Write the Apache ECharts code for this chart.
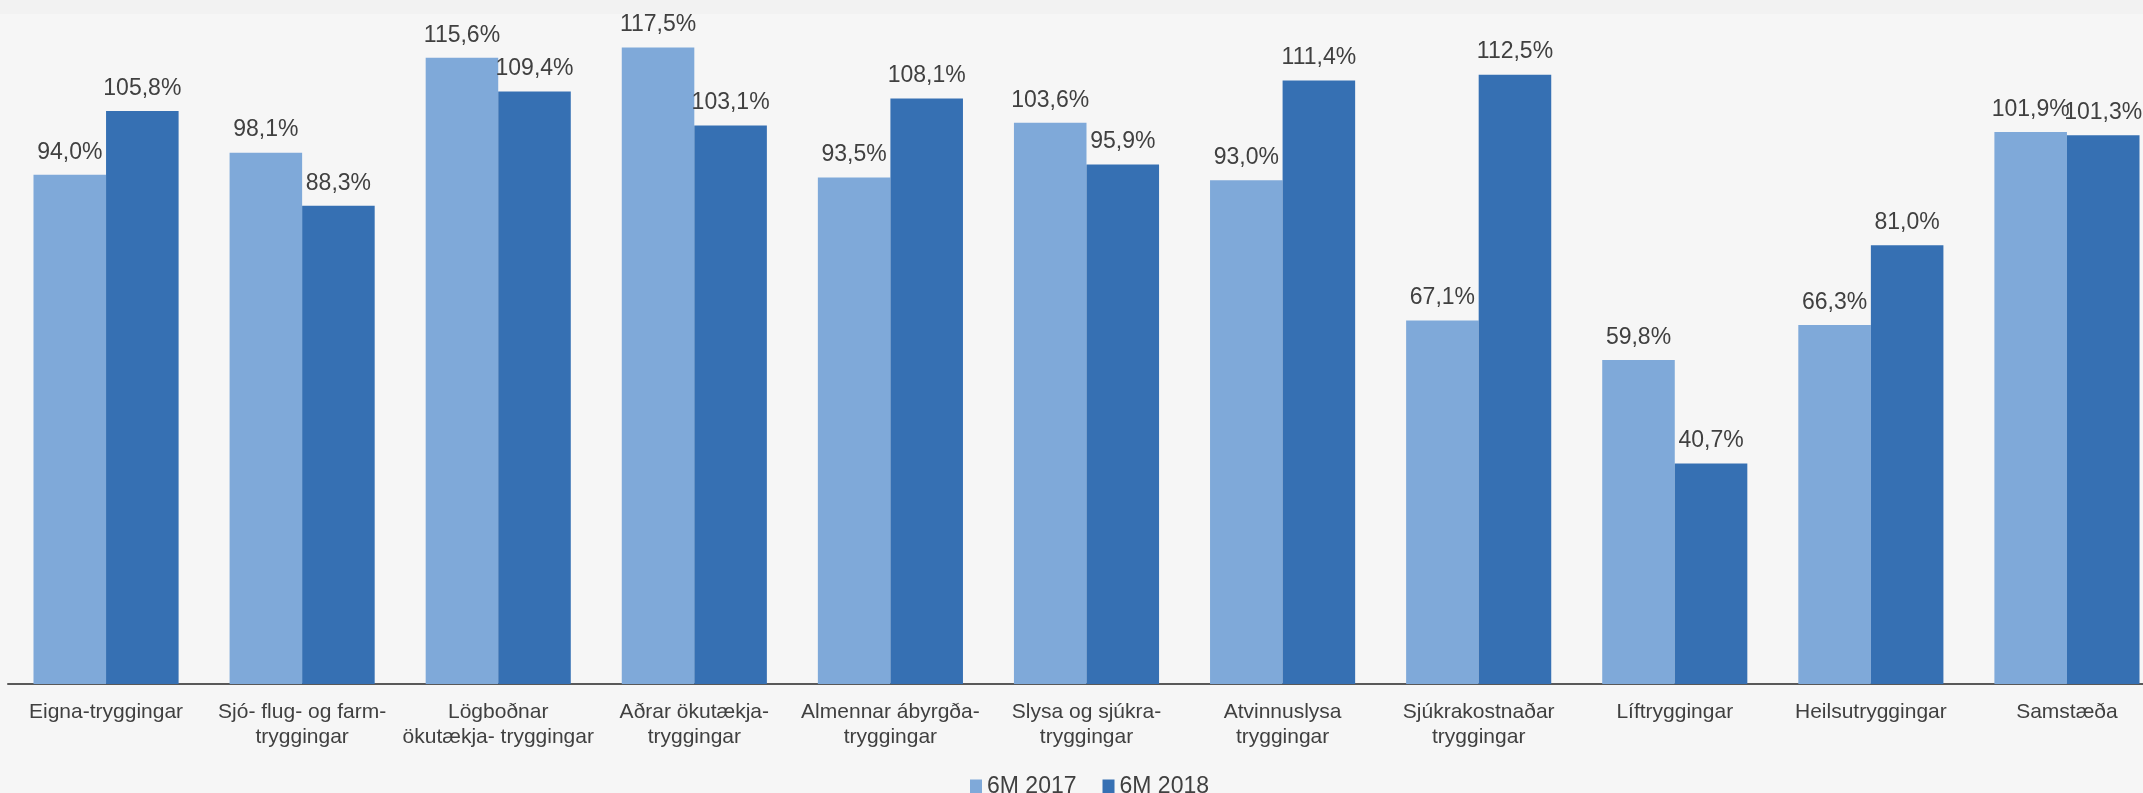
<!DOCTYPE html>
<html>
<head>
<meta charset="utf-8">
<script src="https://cdn.jsdelivr.net/npm/echarts@6/dist/echarts.min.js"></script>
<style>
html,body{margin:0;padding:0;background:#f6f6f6;}
#chart{width:2143px;height:793px;}
</style>
</head>
<body>
<div id="chart"></div>
<script>
const categories = [
  "Eigna-tryggingar",
  "Sjó- flug- og farm-\ntryggingar",
  "Lögboðnar\nökutækja- tryggingar",
  "Aðrar ökutækja-\ntryggingar",
  "Almennar ábyrgða-\ntryggingar",
  "Slysa og sjúkra-\ntryggingar",
  "Atvinnuslysa\ntryggingar",
  "Sjúkrakostnaðar\ntryggingar",
  "Líftryggingar",
  "Heilsutryggingar",
  "Samstæða"
];
const seriesNames = ["6M 2017", "6M 2018"];
const values2017 = [94.0, 98.1, 115.6, 117.5, 93.5, 103.6, 93.0, 67.1, 59.8, 66.3, 101.9];
const values2018 = [105.8, 88.3, 109.4, 103.1, 108.1, 95.9, 111.4, 112.5, 40.7, 81.0, 101.3];

const FONT = "'Liberation Sans', Arial, sans-serif";
const chart = echarts.init(document.getElementById('chart'), null, {renderer: 'canvas'});
const fmt = p => p.value.toFixed(1).replace('.', ',') + '%';
const labelCfg = {
  show: true, position: 'top', distance: 11, formatter: fmt,
  color: '#404040', fontSize: 23, fontFamily: FONT
};
chart.setOption({
  backgroundColor: '#f6f6f6',
  animation: false,
  graphic: [{
    type: 'rect', left: 0, top: 0, z: -1,
    shape: {width: 2143, height: 14},
    style: {fill: '#f2f2f2'}
  }],
  legend: {
    data: seriesNames,
    left: 965, top: 770,
    itemWidth: 12, itemHeight: 14, itemGap: 26,
    icon: 'rect',
    textStyle: {color: '#404040', fontSize: 23, fontFamily: FONT}
  },
  grid: {left: 8, top: 34, width: 2157, bottom: 109, containLabel: false, outerBoundsMode: 'none'},
  xAxis: {
    type: 'category', data: categories,
    axisLine: {show: true, lineStyle: {color: '#595959', width: 2}},
    axisTick: {show: false},
    axisLabel: {
      interval: 0, margin: 16, color: '#404040', fontSize: 21,
      fontFamily: FONT, lineHeight: 25, hideOverlap: false
    }
  },
  yAxis: {
    type: 'value', min: 0, max: 120, show: false,
    splitLine: {show: false}
  },
  series: [
    {name: seriesNames[0], type: 'bar', data: values2017, barGap: '0%', barCategoryGap: '26%',
     itemStyle: {color: '#7fa9d9'}, label: labelCfg},
    {name: seriesNames[1], type: 'bar', data: values2018, barGap: '0%', barCategoryGap: '26%',
     itemStyle: {color: '#3670b3'}, label: labelCfg}
  ]
});
</script>
</body>
</html>
